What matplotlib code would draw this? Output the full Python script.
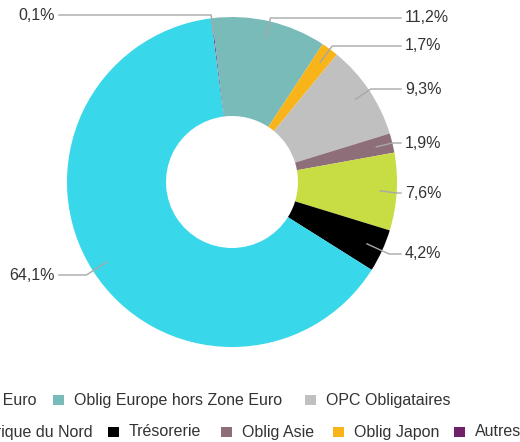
import numpy as np
import matplotlib.pyplot as plt
from matplotlib.patches import Rectangle

plt.rcParams['font.family'] = ['Liberation Sans', 'DejaVu Sans']

# slices, clockwise from the top
slice_names = ["Autres", "Oblig Europe hors Zone Euro", "Oblig Japon",
               "OPC Obligataires", "Oblig Asie", "Oblig Amérique du Nord",
               "Trésorerie", "Oblig Zone Euro"]
slice_values = [0.1, 11.2, 1.7, 9.3, 1.9, 7.6, 4.2, 64.1]
slice_labels = ["0,1%", "11,2%", "1,7%", "9,3%", "1,9%", "7,6%", "4,2%", "64,1%"]

colors = {
    "Oblig Zone Euro": "#38d7ea",
    "Oblig Europe hors Zone Euro": "#78bbb8",
    "OPC Obligataires": "#c0c0c0",
    "Oblig Amérique du Nord": "#c8dc44",
    "Trésorerie": "#000000",
    "Oblig Asie": "#8e6e78",
    "Oblig Japon": "#f8b418",
    "Autres": "#6f2066",
}

# legend rows as drawn in the original
legend_row1 = ["Oblig Zone Euro", "Oblig Europe hors Zone Euro", "OPC Obligataires"]
legend_row2 = ["Oblig Amérique du Nord", "Trésorerie", "Oblig Asie",
               "Oblig Japon", "Autres"]

W, H = 520, 442
fig = plt.figure(figsize=(W / 100, H / 100), dpi=100)
ax = fig.add_axes([0, 0, 1, 1])

cx, cy, R = 232, H - 182, 165
wedges, _ = ax.pie(slice_values, colors=[colors[n] for n in slice_names],
                   startangle=97.3, counterclock=False, radius=R, center=(cx, cy),
                   wedgeprops=dict(width=R * 0.6, linewidth=0))
ax.set_xlim(0, W)
ax.set_ylim(0, H)
ax.set_aspect('equal')
ax.axis('off')

# label heights (pixels from top)
label_y = [15, 18, 46, 89, 143, 193, 254, 275]
text_col = "#333333"
line_col = "#a8a8a8"
fs = 11.5
for w, lab, ly in zip(wedges, slice_labels, label_y):
    mid = np.deg2rad((w.theta1 + w.theta2) / 2)
    dx, dy = np.cos(mid), np.sin(mid)
    ax0, ay0 = cx + 0.9 * R * dx, cy + 0.9 * R * dy
    ty = H - ly
    t = (ty - ay0) / dy if abs(dy) > 1e-3 else 0
    bx = ax0 + t * dx
    if dx >= 0:
        bx = min(bx, 396)
        ax.plot([ax0, bx, 401], [ay0, ty, ty], color=line_col, lw=1)
        ax.text(405, ty, lab, ha='left', va='center', fontsize=fs, color=text_col)
    else:
        ax.plot([ax0, bx, 59], [ay0, ty, ty], color=line_col, lw=1)
        ax.text(55, ty, lab, ha='right', va='center', fontsize=fs, color=text_col)

# legend (runs past the edges of the picture, as in the original)
row1_x = [None, 53, 305]
row2_x = [None, 108, 221, 333, 454]
first_end = [37, 93]
for row, xs, yrow, end in [(legend_row1, row1_x, 400, first_end[0]),
                           (legend_row2, row2_x, 432, first_end[1])]:
    y = H - yrow
    for name, x in zip(row, xs):
        if x is None:
            ax.text(end, y, name, ha='right', va='center', fontsize=fs, color=text_col)
            continue
        ax.add_patch(Rectangle((x, y - 5), 10.5, 10.5, color=colors[name], lw=0))
        ax.text(x + 21, y, name, ha='left', va='center', fontsize=fs, color=text_col)

fig.savefig("out.png", dpi=100)
